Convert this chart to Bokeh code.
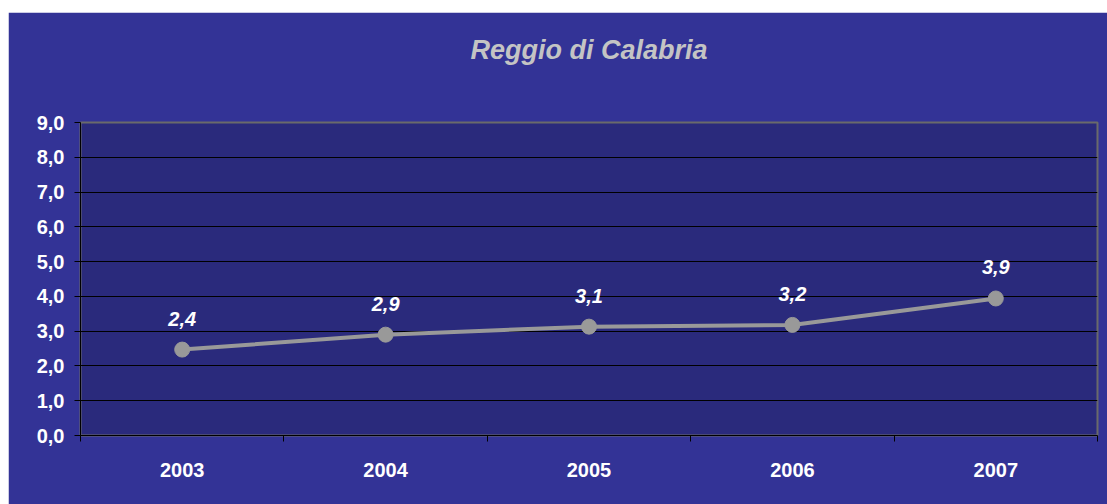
from bokeh.plotting import figure
from bokeh.models import Range1d, LinearAxis, FixedTicker, ColumnDataSource
from bokeh.core.properties import value
from bokeh.embed import file_html
from bokeh.resources import INLINE

# ---- data ----
years = ["2003", "2004", "2005", "2006", "2007"]
values = [2.47, 2.90, 3.13, 3.18, 3.94]
value_labels = ["2,4", "2,9", "3,1", "3,2", "3,9"]
y_ticks = [0, 1, 2, 3, 4, 5, 6, 7, 8, 9]
y_tick_labels = ["0,0", "1,0", "2,0", "3,0", "4,0", "5,0", "6,0", "7,0", "8,0", "9,0"]
title_text = "Reggio di Calabria"

FONT = "Liberation Sans"
OUTER = "#333396"
INNER = "#2a2a7c"

# category slots: centre of slot i is i + 0.5, slot edges are integers
centres = [i + 0.5 for i in range(len(years))]
edges = list(range(len(years) + 1))

src = ColumnDataSource(dict(x=centres, val=values, lab=value_labels))

p = figure(width=1099, height=492, output_backend="svg", toolbar_location=None,
           x_range=Range1d(0, len(years)), y_range=Range1d(0, 9),
           min_border_left=72, min_border_right=10, min_border_top=110, min_border_bottom=69,
           x_axis_location=None, y_axis_location="left")
p.margin = (12, 0, 0, 8)
p.border_fill_color = OUTER
p.background_fill_color = INNER
p.outline_line_color = "#6a6a6a"
p.outline_line_width = 2

# y axis
ya = p.yaxis[0]
ya.ticker = FixedTicker(ticks=y_ticks)
ya.major_label_overrides = {t: l for t, l in zip(y_ticks, y_tick_labels)}
ya.axis_line_color = "black"
ya.major_tick_line_color = "black"
ya.major_tick_in = 0
ya.major_tick_out = 6
ya.minor_tick_line_color = None
ya.major_label_text_color = "white"
ya.major_label_text_font = FONT
ya.major_label_text_font_style = "bold"
ya.major_label_text_font_size = "20px"
ya.major_label_standoff = 10

p.ygrid.ticker = FixedTicker(ticks=y_ticks[1:-1])
p.ygrid.grid_line_color = "black"
p.ygrid.grid_line_width = 1
p.xgrid.grid_line_color = None

# x axis: labels at slot centres, tick marks at slot edges (as minor ticks)
xa = LinearAxis(ticker=FixedTicker(ticks=centres, minor_ticks=edges))
xa.major_label_overrides = {c: y for c, y in zip(centres, years)}
xa.axis_line_color = "black"
xa.major_tick_line_color = None
xa.major_tick_in = 0
xa.major_tick_out = 0
xa.minor_tick_line_color = "black"
xa.minor_tick_in = 0
xa.minor_tick_out = 6
xa.major_label_text_color = "white"
xa.major_label_text_font = FONT
xa.major_label_text_font_style = "bold"
xa.major_label_text_font_size = "20px"
xa.major_label_standoff = 21
p.add_layout(xa, "below")

# chart title, carried by a tick-less axis above the frame
ta = LinearAxis(ticker=FixedTicker(ticks=[]), bounds=(0, 4.75), axis_label=title_text)
ta.axis_line_color = None
ta.major_tick_line_color = None
ta.minor_tick_line_color = None
ta.major_tick_in = 0
ta.major_tick_out = 0
ta.minor_tick_in = 0
ta.minor_tick_out = 0
ta.major_label_standoff = 0
ta.axis_label_standoff = 58
ta.axis_label_text_color = "#c4c4c4"
ta.axis_label_text_font = FONT
ta.axis_label_text_font_style = "bold italic"
ta.axis_label_text_font_size = "27px"
p.add_layout(ta, "above")

# series
p.line(x="x", y="val", source=src, line_color="#999999", line_width=4)
p.scatter(x="x", y="val", source=src, marker="circle", size=15,
          fill_color="#999999", line_color="#999999")
p.text(x="x", y="val", text="lab", source=src, y_offset=-31,
       text_align="center", text_baseline="middle", text_color="white",
       text_font=value(FONT), text_font_style="bold italic", text_font_size="20px")

open("out.html", "w").write(file_html(p, INLINE))
